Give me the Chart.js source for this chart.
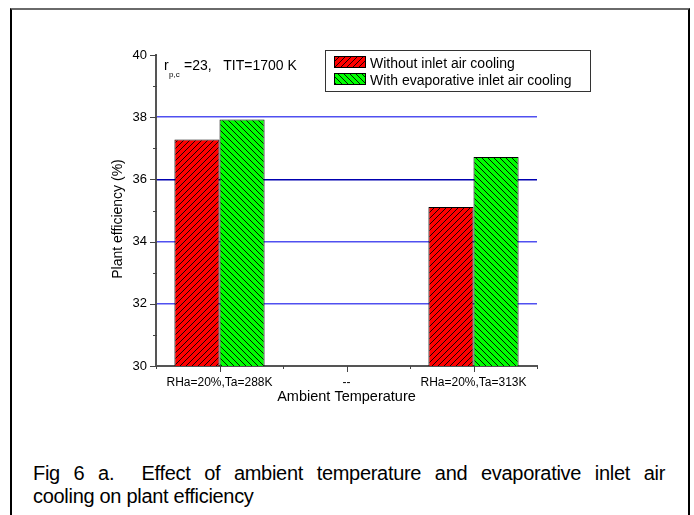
<!DOCTYPE html>
<html>
<head>
<meta charset="utf-8">
<script src="https://cdn.jsdelivr.net/npm/chart.js@4"></script>
<style>
    html, body { margin: 0; padding: 0; background: #fff; }
    body { width: 694px; height: 515px; position: relative; overflow: hidden; font-family: "Liberation Sans", Arial, sans-serif; }
    #frame { position: absolute; left: 10px; top: 8px; width: 676px; height: 520px; border-left: 2px solid #000; border-right: 2px solid #000; border-top: 2px solid #6a6a6a; }
    #wrap { position: absolute; left: 0; top: 0; width: 694px; height: 420px; }
    #caption { position: absolute; left: 33px; top: 462px; width: 632px; font-family: "Liberation Sans", Arial, sans-serif; font-size: 20px; line-height: 23px; letter-spacing: -0.3px; color: #000; }
    #caption .l1 { text-align: justify; text-align-last: justify; white-space: nowrap; }
</style>
</head>
<body>
<div id="frame"></div>
<div id="wrap"><canvas id="chart" width="694" height="420"></canvas></div>
<div id="caption">
    <div class="l1">Fig 6 a.&nbsp; Effect of ambient temperature and evaporative inlet air</div>
    <div>cooling on plant efficiency</div>
</div>
<script>
const categories = ['RHa=20%,Ta=288K', '--', 'RHa=20%,Ta=313K'];
const withoutCooling = [37.28, null, 35.11];
const withCooling = [37.93, null, 36.72];
const seriesNames = ['Without inlet air cooling', 'With evaporative inlet air cooling'];
const yTicks = [30, 32, 34, 36, 38, 40];

const FONT = '"Liberation Sans", Arial, sans-serif';

function makeHatch(bg, forward) {
    const c = document.createElement('canvas');
    c.width = 6; c.height = 6;
    const g = c.getContext('2d');
    g.fillStyle = bg;
    g.fillRect(0, 0, 6, 6);
    g.strokeStyle = '#000';
    g.lineWidth = 0.9;
    g.beginPath();
    if (forward) {
        g.moveTo(-1, 7); g.lineTo(7, -1);
        g.moveTo(-4, 4); g.lineTo(4, -4);
        g.moveTo(2, 10); g.lineTo(10, 2);
    } else {
        g.moveTo(-1, -1); g.lineTo(7, 7);
        g.moveTo(-4, 2); g.lineTo(4, 10);
        g.moveTo(2, -4); g.lineTo(10, 4);
    }
    g.stroke();
    return g.createPattern(c, 'repeat');
}
const redHatch = makeHatch('#ff0000', true);
const greenHatch = makeHatch('#00ff00', false);

// tick marks, titles, legend, note
const decor = {
    id: 'decor',
    afterDraw(chart) {
        const ctx = chart.ctx;
        const x = chart.scales.x, y = chart.scales.y;
        const left = chart.chartArea.left, bottom = chart.chartArea.bottom;
        ctx.save();
        ctx.strokeStyle = '#444';
        ctx.lineWidth = 1;
        ctx.beginPath();
        for (let v = y.min; v <= y.max; v++) {
            const py = Math.round(y.getPixelForValue(v)) + 0.5;
            const len = v % 2 === 0 ? 6 : 3;
            ctx.moveTo(left - len, py); ctx.lineTo(left + 1, py);
        }
        for (let i = 0; i <= categories.length * 2; i++) {
            const px = Math.round(x.left + (x.right - x.left) * i / (categories.length * 2)) + 0.5;
            const len = i % 2 === 1 ? 6 : 3;
            ctx.moveTo(px, bottom); ctx.lineTo(px, bottom + len);
        }
        ctx.stroke();

        ctx.fillStyle = '#000';
        ctx.font = '14.5px ' + FONT;
        ctx.textAlign = 'center';
        ctx.textBaseline = 'middle';
        ctx.fillText('Ambient Temperature', (x.left + x.right) / 2, 397);
        ctx.save();
        ctx.translate(118, 219);
        ctx.rotate(-Math.PI / 2);
        ctx.font = '14px ' + FONT;
        ctx.fillText('Plant efficiency (%)', 0, 0);
        ctx.restore();

        // note
        ctx.textAlign = 'left';
        ctx.textBaseline = 'alphabetic';
        ctx.font = '14px ' + FONT;
        ctx.fillText('r', 164, 70);
        ctx.font = '8px ' + FONT;
        ctx.fillText('p,c', 169, 77);
        ctx.font = '14px ' + FONT;
        ctx.fillText('=23,   TIT=1700 K', 184, 70);

        // legend
        ctx.strokeStyle = '#333';
        ctx.strokeRect(325.5, 50.5, 265, 41);
        const fills = [redHatch, greenHatch];
        ctx.font = '14px ' + FONT;
        seriesNames.forEach((name, i) => {
            const ty = 56 + i * 17;
            ctx.fillStyle = fills[i];
            ctx.fillRect(334, ty, 32, 12);
            ctx.strokeStyle = '#000';
            ctx.strokeRect(334.5, ty + 0.5, 31, 11);
            ctx.fillStyle = '#000';
            ctx.fillText(name, 370, ty + 11.5);
        });
        ctx.restore();
    }
};

new Chart(document.getElementById('chart'), {
    type: 'bar',
    data: {
        labels: categories,
        datasets: [
            { label: seriesNames[0], data: withoutCooling, backgroundColor: redHatch, borderColor: '#000', borderWidth: 1, barPercentage: 1, categoryPercentage: 0.71 },
            { label: seriesNames[1], data: withCooling, backgroundColor: greenHatch, borderColor: '#000', borderWidth: 1, barPercentage: 1, categoryPercentage: 0.71 }
        ]
    },
    options: {
        responsive: false,
        animation: false,
        layout: { padding: { left: 106, right: 157, top: 55, bottom: 0 } },
        plugins: { legend: { display: false }, tooltip: { enabled: false } },
        scales: {
            x: {
                offset: true,
                grid: { display: false, drawTicks: false },
                border: { color: '#555', width: 2 },
                ticks: { color: '#000', font: { size: 12, family: FONT }, padding: 9, maxRotation: 0, autoSkip: false },
                afterFit: s => { s.height = 54; }
            },
            y: {
                min: 30, max: 40,
                grid: {
                    drawTicks: false,
                    color: c => {
                        const v = c.tick && c.tick.value;
                        if (v === 36) return '#0000b0';
                        return yTicks.includes(v) && v !== 30 && v !== 40 ? '#5050f0' : 'rgba(0,0,0,0)';
                    },
                    lineWidth: 1.5
                },
                border: { color: '#555', width: 2 },
                ticks: {
                    stepSize: 1,
                    color: '#000',
                    padding: 9,
                    font: { size: 13, family: FONT },
                    callback: v => yTicks.includes(v) ? v : ''
                },
                afterFit: s => { s.width = 50; }
            }
        }
    },
    plugins: [decor]
});
</script>
</body>
</html>
